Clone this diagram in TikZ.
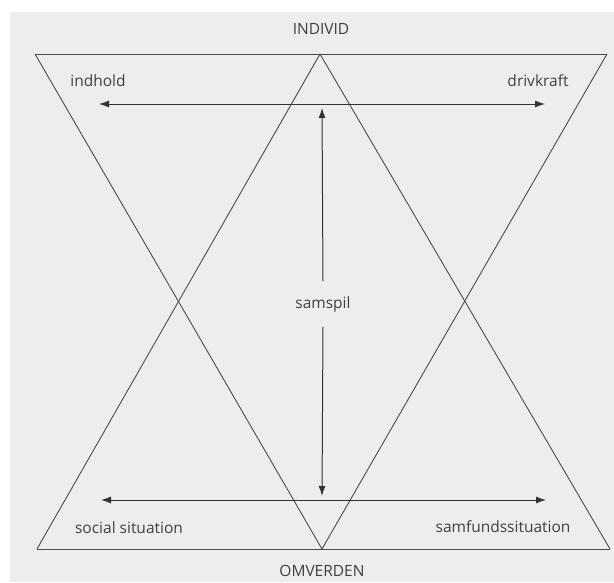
\documentclass[tikz,border=0pt]{standalone}
\usepackage{fontspec}
\setmainfont{Open Sans}
\usetikzlibrary{arrows.meta}

\begin{document}
\begin{tikzpicture}[
  x=1pt, y=-1pt,
  every node/.style = {font=\fontsize{15.5}{18}\selectfont, text=black!75},
  frame/.style = {draw=black!70, line width=0.9pt, line join=round},
  arr/.style   = {-{Latex[length=10pt, width=7pt]}, draw=black!80, line width=1pt},
  biarr/.style = {{Latex[length=10pt, width=7pt]}-{Latex[length=10pt, width=7pt]},
                  draw=black!80, line width=1pt},
]

%% ══ PAGE: white margin, grey scan ═══════════════════════════════════════
\useasboundingbox (0,0) rectangle (614,582);
\fill[white] (0,0) rectangle (614,582);
\fill[black!7] (10,12) rectangle (614,582);

%% ══ CORNERS OF THE TWO TRIANGLE PAIRS ═══════════════════════════════════
\coordinate (tl)  at (35,54);
\coordinate (tm)  at (320,54);
\coordinate (tr)  at (607,54);
\coordinate (bl)  at (37,549);
\coordinate (bm)  at (322,549);
\coordinate (br)  at (610,549);

\draw[frame] (tl) -- (tr);
\draw[frame] (bl) -- (br);
\draw[frame] (tl) -- (bm) -- (tr);
\draw[frame] (bl) -- (tm) -- (br);

%% ══ LABELS ═══════════════════════════════════════════════════════════════
\node at (321,29)  (individ)  {INDIVID};
\node at (322,571) (omverden) {OMVERDEN};
\node at (98,81)   (indhold)  {indhold};
\node at (538,81)  (drivkraft) {drivkraft};
\node at (129,528) (social)   {social situation};
\node at (503,527) (samfund)  {samfundssituation};
\node[inner ysep=15pt] at (323,304) (samspil) {samspil};

%% ── horizontal double arrows ─────────────────────────────────────────────
\coordinate (upL) at (99,104);
\coordinate (upR) at (545,104);
\coordinate (loL) at (101,500);
\coordinate (loR) at (546,500);

\draw[biarr] (upL) -- (upR);
\draw[biarr] (loL) -- (loR);

%% ── vertical arrows out of samspil ───────────────────────────────────────
\coordinate (upTip) at (322,108);
\coordinate (loTip) at (322,496);

\draw[arr] (samspil.north) -- (upTip);
\draw[arr] (samspil.south) -- (loTip);

\end{tikzpicture}
\end{document}
